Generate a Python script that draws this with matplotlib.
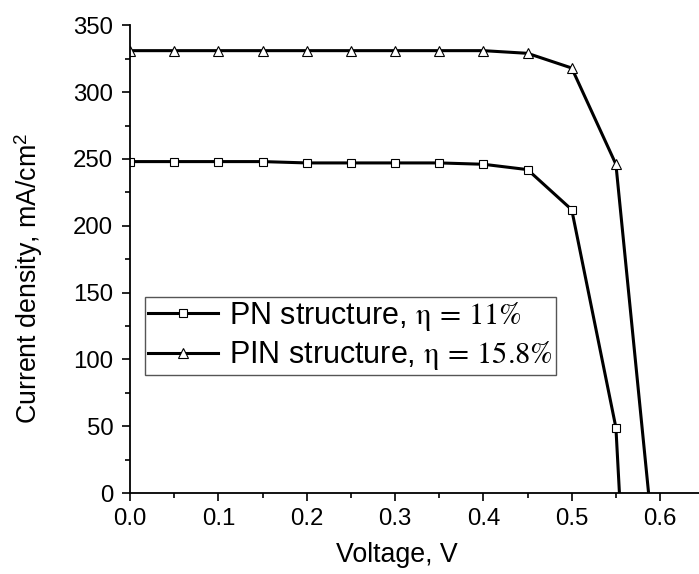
import numpy as np
import matplotlib
matplotlib.use("Agg")
from matplotlib import pyplot as plt
from matplotlib.ticker import MultipleLocator

# J-V curves (voltage in V, current density in mA/cm2)
v_pn = [0.0, 0.05, 0.1, 0.15, 0.2, 0.25, 0.3, 0.35, 0.4, 0.45, 0.5, 0.55, 0.554]
j_pn = [248, 248, 248, 248, 247, 247, 247, 247, 246, 242, 212, 49, 0]

v_pin = [0.0, 0.05, 0.1, 0.15, 0.2, 0.25, 0.3, 0.35, 0.4, 0.45, 0.5, 0.55, 0.587]
j_pin = [331, 331, 331, 331, 331, 331, 331, 331, 331, 329, 318, 246, 0]

label_pn = r"PN structure, $\mathrm{\eta\,=\,11\%}$"
label_pin = r"PIN structure, $\mathrm{\eta\,=\,15.8\%}$"

plt.rcParams['font.family'] = ['Liberation Sans', 'DejaVu Sans']
plt.rcParams['mathtext.fontset'] = 'stix'

fig = plt.figure(figsize=(6.99, 5.74), dpi=100)
ax = fig.add_axes([0.186, 0.141, 0.8215, 0.815])

ax.plot(v_pn, j_pn, color='k', lw=2.2, marker='s', ms=6, mfc='white',
        mec='k', mew=0.8, markevery=list(range(len(v_pn) - 1)), label=label_pn)
ax.plot(v_pin, j_pin, color='k', lw=2.2, marker='^', ms=7.5, mfc='white',
        mec='k', mew=0.8, markevery=list(range(len(v_pin) - 1)), label=label_pin)

ax.set_xlim(0, 0.65)
ax.set_ylim(0, 350)
ax.xaxis.set_major_locator(MultipleLocator(0.1))
ax.xaxis.set_minor_locator(MultipleLocator(0.05))
ax.yaxis.set_major_locator(MultipleLocator(50))
ax.yaxis.set_minor_locator(MultipleLocator(25))
ax.xaxis.set_major_formatter(plt.FormatStrFormatter('%.1f'))

ax.spines['top'].set_visible(False)
ax.spines['right'].set_visible(False)
ax.spines['left'].set_linewidth(1.3)
ax.spines['bottom'].set_linewidth(1.3)
ax.tick_params(which='major', direction='out', length=6, width=1.2, labelsize=17.3)
ax.tick_params(which='minor', direction='out', length=3.5, width=1.2)
ax.tick_params(axis='y', which='major', pad=6)
ax.tick_params(axis='x', which='major', pad=5)

ax.set_xlabel('Voltage, V', fontsize=19.3)
ax.set_ylabel(r'Current density, mA/cm$^\mathregular{2}$', fontsize=19.3)
ax.xaxis.set_label_coords(0.464, -0.105)
ax.yaxis.set_label_coords(-0.148, 0.459)

leg = ax.legend(loc='upper left', bbox_to_anchor=(0.026, 0.419), borderaxespad=0,
                fontsize=22, fancybox=False, framealpha=1, edgecolor='#555555',
                handlelength=2.3, handletextpad=0.36, borderpad=0.1, labelspacing=0.2)
leg.get_frame().set_linewidth(1.0)

fig.savefig('out.png', dpi=100)
